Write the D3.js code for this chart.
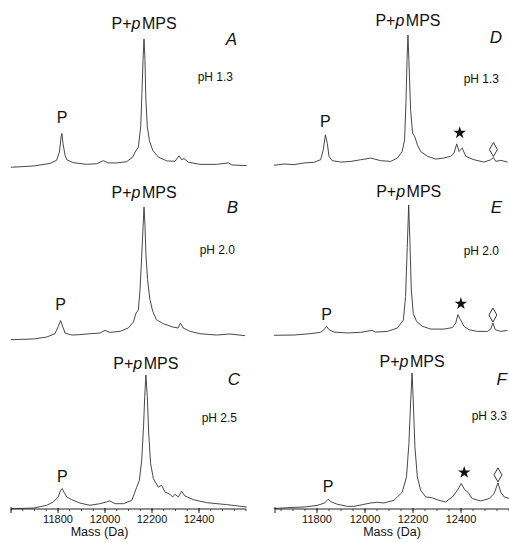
<!DOCTYPE html>
<html><head><meta charset="utf-8">
<script src="https://cdn.jsdelivr.net/npm/d3@7"></script>
<style>body{margin:0;background:#fff}</style>
</head><body><svg id="c" width="509" height="542"></svg>
<script>
// ---------- data ----------
const panelIds = ["A","B","C","D","E","F"];
const phLabels = ["pH 1.3","pH 2.0","pH 2.5","pH 1.3","pH 2.0","pH 3.3"];
const tickValues = [11800,12000,12200,12400];
const axisTitle = "Mass (Da)";

const massA = [11600,11695,11766,11794,11806,11813,11817,11821,11830,11837,11865,11922,11965,11993,12014,12050,12092,12118,12128,12142,12152,12157,12162,12166,12170,12174,12180,12189,12203,12227,12263,12298,12315,12326,12336,12355,12404,12475,12525,12540,12603];
const intA  = [-1,0,2,4.5,11,23,25.6,18,8.5,5,2.6,1.3,1.8,4.2,2.4,2.4,3.4,7,11,15,31,57,84,100,84,52,31,20,12.4,7,4,3.7,8,5,5.8,3,1.3,1.3,2.4,0.8,0.3];

const massB = [11600,11695,11752,11787,11801,11811,11820,11830,11858,11893,11936,11978,12000,12021,12064,12099,12121,12132,12142,12149,12156,12162,12166,12170,12174,12181,12191,12203,12219,12248,12290,12311,12321,12333,12362,12404,12475,12532,12596];
const intB  = [-0.5,0,1.5,4,9.5,14,9.5,4.5,3,3.3,4,4.5,6.5,5,5.8,8.3,13,19.6,22,37,62,85,100,87,65,45,30,21,14.6,11.6,9,8.3,12,8.3,5.8,4,3,3.8,2.5];

const massC = [11600,11695,11752,11780,11801,11811,11818,11825,11837,11858,11893,11936,11978,12007,12021,12043,12078,12114,12135,12146,12156,12164,12169,12174,12180,12186,12194,12206,12227,12241,12255,12276,12288,12298,12312,12326,12340,12375,12432,12517,12603];
const intC  = [-1.3,-0.8,1.3,3.8,7.6,12.7,14,11.4,7.6,5.6,3,1.3,2.5,3.8,4.6,2.5,2.5,5,15,20,35,61,83.5,100,83.5,56,33,21.5,15,16.5,11.4,9.6,7.6,9.6,7.6,12,8.4,5.6,3.3,1.8,0];

const massD = [11621,11662,11704,11746,11787,11815,11826,11835,11843,11850,11863,11899,11941,11982,12024,12065,12107,12135,12155,12165,12171,12175,12179,12183,12190,12198,12208,12218,12232,12260,12295,12329,12357,12371,12382,12392,12405,12420,12454,12496,12524,12535,12545,12566,12594];
const intD  = [-1,0,-0.5,0.8,1.3,3.3,11,22.6,16,6,2.6,1.5,2,3.3,4.6,2.6,2,4.6,9.7,18.7,49.5,80,100,80,42,24,21,15,9.7,6,3.8,4.6,6,8.5,15.6,9.7,12.3,6,3.3,1.5,3.3,5,2,2.8,1.5];

const massE = [11621,11704,11774,11815,11829,11840,11850,11871,11926,11982,12030,12044,12093,12135,12160,12169,12176,12182,12187,12193,12201,12215,12239,12274,12329,12364,12378,12387,12398,12412,12433,12468,12510,12524,12533,12543,12566,12594];
const intE  = [-1,-0.8,0.3,1.3,3.3,6,3.3,1.5,0.8,1.3,2.8,1.5,2,4.6,11,29,67,100,72.5,34,16,9.7,6,3.8,3.8,5,8.5,15,11,6,3.3,2,2,3.8,8.5,3.3,2,2.8];

const massF = [11621,11677,11746,11801,11832,11846,11860,11885,11926,11954,11996,12024,12051,12079,12121,12155,12173,12183,12190,12196,12201,12208,12218,12232,12253,12281,12308,12336,12364,12385,12401,12415,12429,12447,12482,12517,12538,12554,12566,12580,12601];
const intF  = [-1.2,-0.5,0,1.2,3,5.8,3.8,2,0.5,0.5,2,3,3.5,3,5,11,22.5,47.5,77.5,100,80,45,22.5,12.5,7.5,6.8,5,3.8,7.5,12.5,17.5,13,11,6.3,4.5,6.3,10,18,11,7.5,6.3];

// annotation peaks (mass) per panel
const pPeakMass    = [11817,11811,11818,11835,11840,11846];
const mainPeakMass = [12166,12166,12174,12179,12182,12196];
const starPeakMass = [null,null,null,12382,12387,12401];
const diamPeakMass = [null,null,null,12535,12533,12554];

// ---------- layout ----------
const masses = [massA,massB,massC,massD,massE,massF];
const ints   = [intA,intB,intC,intD,intE,intF];
const layout = [
  {col:0, base:166, top:39,  lbl:29,  let:45,  ph:81,  letX:237, phX:233, pY:123},
  {col:0, base:339, top:207, lbl:198, let:213, ph:254, letX:238, phX:235, pY:310},
  {col:0, base:507, top:375, lbl:369, let:385, ph:422, letX:240, phX:237, pY:482},
  {col:1, base:164, top:35,  lbl:26,  let:43,  ph:83,  letX:502, phX:499, pY:127},
  {col:1, base:334, top:205, lbl:197, let:213, ph:255, letX:502, phX:499, pY:320},
  {col:1, base:507, top:373, lbl:367, let:385, ph:420, letX:507, phX:507, pY:492}
];
const xScales = [
  d3.scaleLinear().domain([11600,12600]).range([11,246]),
  d3.scaleLinear().domain([11625,12600]).range([275,509])
];

const font = "'Liberation Sans', Arial, Helvetica, sans-serif";
const ink = "#111";
const svg = d3.select("#c").style("font-family", font);

panelIds.forEach((id, i) => {
  const L = layout[i];
  const x = xScales[L.col];
  const y = d3.scaleLinear().domain([0,100]).range([L.base, L.top]);
  const pts = masses[i].map((m,k)=>[m, ints[i][k]]);
  const g = svg.append("g");
  g.append("path").datum(pts)
    .attr("d", d3.line().x(d=>x(d[0])).y(d=>y(d[1])))
    .attr("fill","none").attr("stroke","#333").attr("stroke-width",0.9)
    .attr("stroke-linejoin","round");

  // main label
  const t = g.append("text").attr("x", x(mainPeakMass[i])).attr("y", L.lbl)
    .attr("text-anchor","middle").attr("font-size",16).attr("fill",ink);
  t.append("tspan").text("P+");
  t.append("tspan").attr("font-style","italic").text("p");
  t.append("tspan").attr("dx",1.5).text("MPS");

  g.append("text").attr("x", L.letX).attr("y", L.let).attr("text-anchor","end")
    .attr("font-size",17).attr("font-style","italic").attr("fill",ink).text(id);
  g.append("text").attr("x", L.phX).attr("y", L.ph).attr("text-anchor","end")
    .attr("font-size",12).attr("fill",ink).text(phLabels[i]);
  g.append("text").attr("x", x(pPeakMass[i])).attr("y", L.pY).attr("text-anchor","middle")
    .attr("font-size",16).attr("fill",ink).text("P");

  if (starPeakMass[i] !== null) {
    const k = masses[i].indexOf(starPeakMass[i]);
    const sy = y(ints[i][k]) - 11;
    g.append("path").attr("d", d3.symbol(d3.symbolStar, 48)())
      .attr("transform", `translate(${x(starPeakMass[i])+3},${sy})`).attr("fill","#111");
  }
  if (diamPeakMass[i] !== null) {
    const k = masses[i].indexOf(diamPeakMass[i]);
    const by = y(ints[i][k]) - 1, cx = x(diamPeakMass[i]);
    g.append("path").attr("d", `M${cx},${by} L${cx+4},${by-7} L${cx},${by-14} L${cx-4},${by-7} Z`)
      .attr("fill","none").attr("stroke","#222").attr("stroke-width",0.9);
  }

  if (i === 2 || i === 5) {
    const ax = g.append("g").attr("transform", `translate(0,509)`);
    const dom = x.domain();
    ax.append("line").attr("x1", x.range()[0]).attr("x2", x.range()[1])
      .attr("stroke","#222").attr("stroke-width",1);
    const minor = d3.range(Math.ceil(dom[0]/50)*50, dom[1]+1, 50);
    ax.selectAll(".mn").data(minor).join("line")
      .attr("x1", d=>x(d)).attr("x2", d=>x(d)).attr("y1",0).attr("y2",2)
      .attr("stroke","#222").attr("stroke-width",0.8);
    ax.selectAll(".mj").data(tickValues).join("line")
      .attr("x1", d=>x(d)).attr("x2", d=>x(d)).attr("y1",-1).attr("y2",4)
      .attr("stroke","#222").attr("stroke-width",1);
    ax.append("line").attr("x1", x.range()[0]).attr("x2", x.range()[0]).attr("y1",-2).attr("y2",4)
      .attr("stroke","#222");
    ax.selectAll(".tl").data(tickValues).join("text")
      .attr("x", d=>x(d)).attr("y", 14).attr("text-anchor","middle")
      .attr("font-size",11).attr("fill",ink).text(d=>d);
    ax.append("text").attr("x", (x.range()[0]+x.range()[1])/2 - (i===2?29:0))
      .attr("y", 27).attr("text-anchor","middle").attr("font-size",12.5).attr("fill",ink)
      .text(axisTitle);
  }
});
</script></body></html>
